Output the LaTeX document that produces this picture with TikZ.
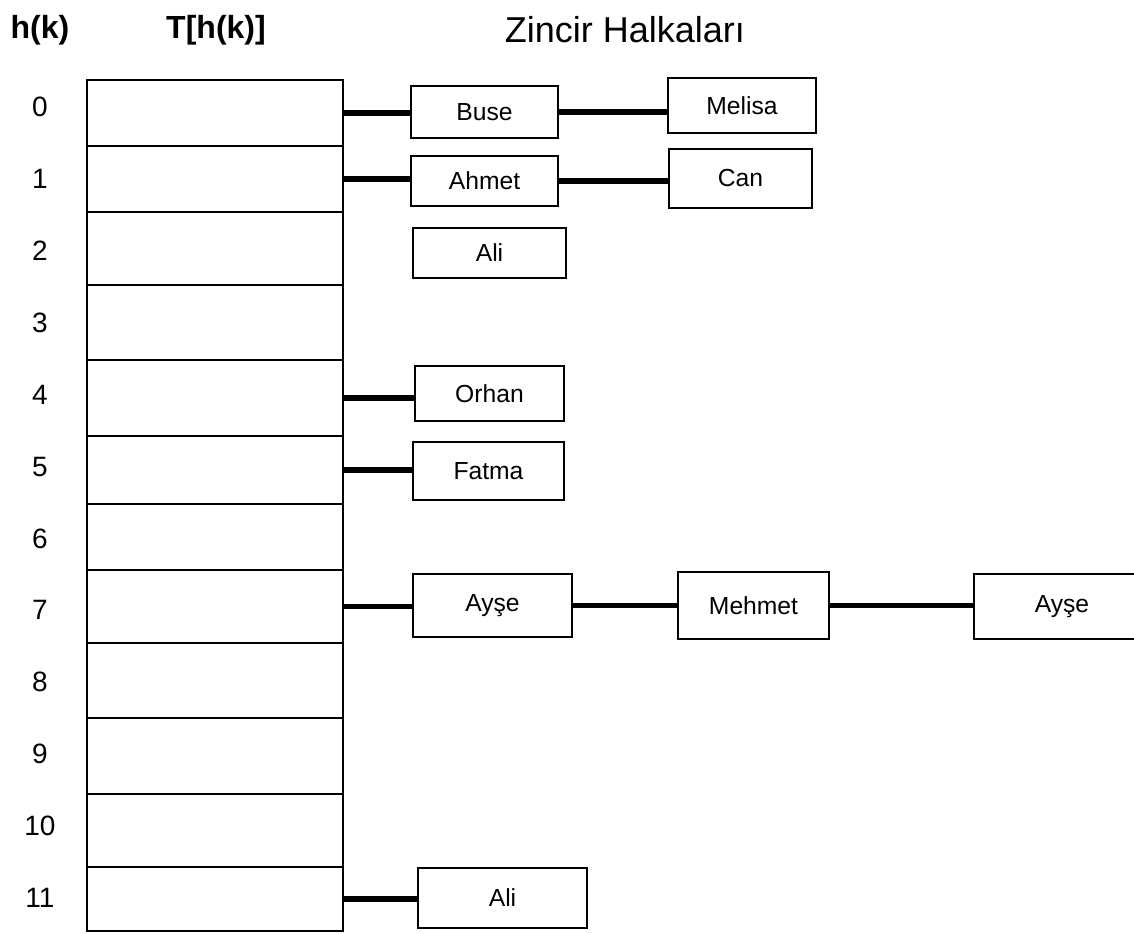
\documentclass[tikz,border=0pt]{standalone}
\usepackage{fontspec}
\setmainfont{Liberation Sans}
\tikzset{>=latex}
\tikzset{
  hucre/.style={draw, line width=1.4pt, minimum width=192pt, inner sep=0pt, outer sep=0pt},
  indis/.style={font=\fontsize{21}{21}\selectfont},
  baslik/.style={font=\fontsize{24}{24}\selectfont\bfseries},
  halka/.style 2 args={draw, line width=1.3pt, inner sep=0pt, outer sep=0pt,
    minimum width=#1*0.75pt, minimum height=#2*0.75pt, font=\fontsize{18.5}{18.5}\selectfont},
  bag/.style={line width=3.9pt}
}
\begin{document}
\begin{tikzpicture}[x=0.75pt,y=-0.75pt]
	\useasboundingbox (0,0) rectangle (1134,933);
	% basliklar
	\node[baslik] (hk) at (40,30) {h(k)};
	\node[baslik] (thk) at (216,30) {T[h(k)]};
	\node[baslik, font=\fontsize{27}{27}\selectfont] (zincir) at (625,30) {Zincir Halkaları};
	% tablo
	\foreach \i/\t/\b in {0/80/146, 1/146/212, 2/212/285, 3/285/360, 4/360/436, 5/436/504,
		6/504/570, 7/570/643, 8/643/718, 9/718/794, 10/794/867, 11/867/931}
	{
		\node[hucre, minimum height={(\b-\t)*0.75pt}] (r\i) at (215,{(\t+\b)/2}) {};
		\node[indis] (i\i) at (40,{107+71.9*\i}) {\i};
	}
	% halkalar
	\node[halka={147}{52}] (buse) at (484.5,112) {Buse};
	\node[halka={148}{55}] (melisa) at (742,105.5) {Melisa};
	\node[halka={147}{50}] (ahmet) at (484.5,181) {Ahmet};
	\node[halka={143}{59}] (can) at (740.5,178.5) {Can};
	\node[halka={153}{50}] (ali) at (489.5,253) {Ali};
	\node[halka={149}{55}] (orhan) at (489.5,393.5) {Orhan};
	\node[halka={151}{58}] (fatma) at (488.5,471) {Fatma};
	\node[halka={159}{63}] (ayse) at (492.5,605.5) {Ayşe};
	\node[halka={151}{67}] (mehmet) at (753.5,605.5) {Mehmet};
	\node[halka={176}{65}] (ayseb) at (1062,606.5) {Ayşe};
	\node[halka={169}{60}] (alib) at (502.5,898) {Ali};
	% baglar
	\draw[bag] (r0.east) -- (r0.east -| buse.west);
	\draw[bag] (buse.east) -- (buse.east -| melisa.west);
	\draw[bag] (r1.east) -- (r1.east -| ahmet.west);
	\draw[bag] (ahmet.east) -- (ahmet.east -| can.west);
	\draw[bag] (r4.east) -- (r4.east -| orhan.west);
	\draw[bag] (r5.east) -- (r5.east -| fatma.west);
	\draw[bag] (r7.east) -- (r7.east -| ayse.west);
	\draw[bag] (ayse.east) -- (ayse.east -| mehmet.west);
	\draw[bag] (mehmet.east) -- (mehmet.east -| ayseb.west);
	\draw[bag] (r11.east) -- (r11.east -| alib.west);
\end{tikzpicture}
\end{document}
